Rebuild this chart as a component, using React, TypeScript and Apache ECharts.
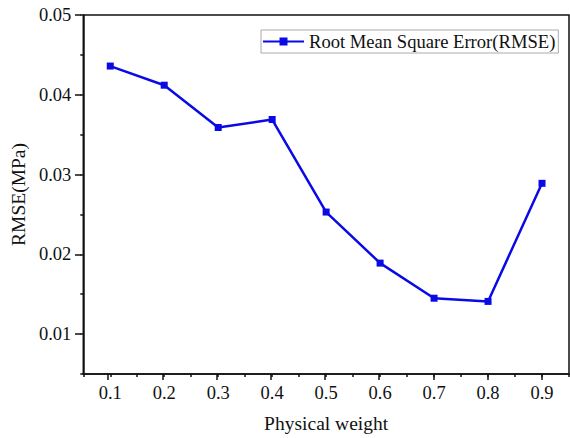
import React, { useEffect, useRef } from "react";
import * as echarts from "echarts";

const weights = [0.1, 0.2, 0.3, 0.4, 0.5, 0.6, 0.7, 0.8, 0.9];
const rmse = [0.0436, 0.0412, 0.0359, 0.0369, 0.0253, 0.0189, 0.0145, 0.0141, 0.0289];
const xTickLabels = [0.1, 0.2, 0.3, 0.4, 0.5, 0.6, 0.7, 0.8, 0.9];
const yTickLabels = [0.01, 0.02, 0.03, 0.04, 0.05];
const seriesName = "Root Mean Square Error(RMSE)";

const FONT = "'Liberation Serif', 'Times New Roman', serif";
const INK = "#111";

export default function App() {
  const ref = useRef<HTMLDivElement>(null);
  useEffect(() => {
    if (!ref.current) return;
    const chart = echarts.init(ref.current, undefined, { renderer: "svg" });
    const gridPos = { left: 81, top: 15, right: 1, bottom: 64 };
    const axisLine = { show: true, lineStyle: { color: INK, width: 1.5 } };
    chart.setOption({
      animation: false,
      backgroundColor: "#fff",
      textStyle: { fontFamily: FONT, color: INK },
      grid: [
        { ...gridPos, show: true, borderColor: INK, borderWidth: 1.5, backgroundColor: "transparent" },
        { ...gridPos, show: false },
      ],
      legend: {
        show: true,
        left: 261,
        top: 30,
        orient: "horizontal",
        padding: [2, 3, 2, 1],
        borderColor: "#aaa",
        borderWidth: 1,
        itemWidth: 41,
        itemHeight: 10,
        itemGap: 4,
        textStyle: { fontFamily: FONT, fontSize: 18.6, color: INK },
        data: [seriesName],
      },
      xAxis: [
        {
          type: "value",
          gridIndex: 0,
          min: 0.05,
          max: 0.95,
          interval: 0.05,
          axisLine,
          axisTick: { show: true, length: 3, lineStyle: { color: INK, width: 1.5 } },
          axisLabel: {
            show: true,
            customValues: xTickLabels,
            formatter: (v: number) => v.toFixed(1),
            fontFamily: FONT,
            fontSize: 18.5,
            color: INK,
            margin: 9,
          },
          splitLine: { show: false },
          name: "Physical weight",
          nameLocation: "middle",
          nameGap: 39,
          nameTextStyle: { fontFamily: FONT, fontSize: 19.5, color: INK },
        },
        {
          type: "value",
          gridIndex: 1,
          min: 0.05,
          max: 0.95,
          axisLine: { show: false },
          axisTick: { show: true, length: 6, customValues: xTickLabels, lineStyle: { color: INK, width: 1.5 } },
          axisLabel: { show: false },
          splitLine: { show: false },
        },
      ],
      yAxis: [
        {
          type: "value",
          gridIndex: 0,
          min: 0.005,
          max: 0.05,
          interval: 0.005,
          axisLine,
          axisTick: { show: true, length: 3, lineStyle: { color: INK, width: 1.5 } },
          axisLabel: {
            show: true,
            customValues: yTickLabels,
            formatter: (v: number) => v.toFixed(2),
            fontFamily: FONT,
            fontSize: 18.5,
            color: INK,
            margin: 12,
          },
          splitLine: { show: false },
          name: "RMSE(MPa)",
          nameLocation: "middle",
          nameGap: 40,
          nameTextStyle: { fontFamily: FONT, fontSize: 19.5, color: INK },
        },
        {
          type: "value",
          gridIndex: 1,
          min: 0.005,
          max: 0.05,
          axisLine: { show: false },
          axisTick: { show: true, length: 6, customValues: yTickLabels, lineStyle: { color: INK, width: 1.5 } },
          axisLabel: { show: false },
          splitLine: { show: false },
        },
      ],
      series: [
        {
          name: seriesName,
          type: "line",
          xAxisIndex: 0,
          yAxisIndex: 0,
          data: weights.map((w, i) => [w, rmse[i]]),
          symbol: "rect",
          symbolSize: 7,
          itemStyle: { color: "#0a0ae6" },
          lineStyle: { color: "#0a0ae6", width: 2.5 },
        },
      ],
    });
    return () => chart.dispose();
  }, []);
  return <div ref={ref} style={{ width: 570, height: 438, position: "fixed", left: 0, top: 0 }} />;
}
